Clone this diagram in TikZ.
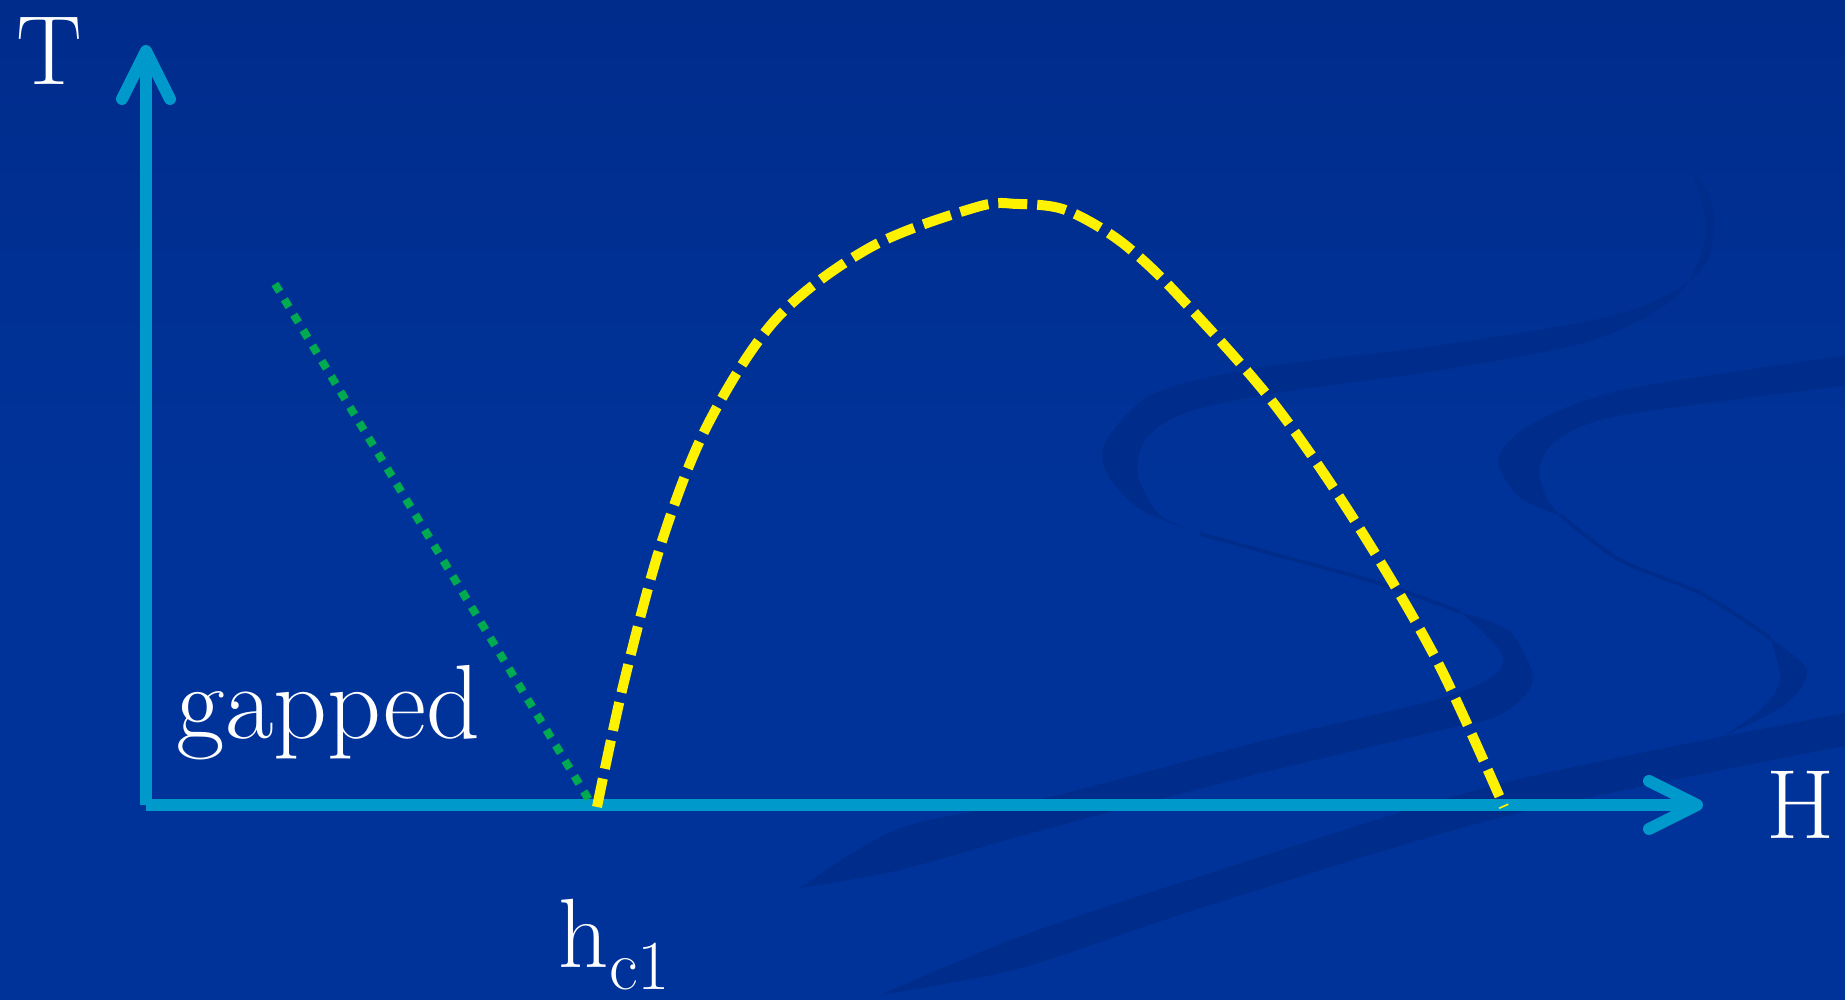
\documentclass[tikz,border=0pt]{standalone}
\usepackage{xcolor}
\usepackage{tikz}
\usetikzlibrary{arrows.meta}
\definecolor{bgblue}{RGB}{0,51,153}
\definecolor{bgtop}{RGB}{0,44,140}
\definecolor{swirl}{RGB}{0,45,140}
\definecolor{axisblue}{RGB}{0,153,204}
\definecolor{gapgreen}{RGB}{0,170,80}

\begin{document}
\begin{tikzpicture}[>={Straight Barb[round,length=4.8mm,width=4.8mm]},
  axis/.style={->, line width=1.2mm, axisblue},
  lbl/.style={text=white, inner sep=0pt, font=\fontsize{28}{34}\selectfont},
  band/.style={fill=swirl},
  thread/.style={swirl, line width=0.4mm},
  gapline/.style={gapgreen, line width=0.8mm, dash pattern=on 0.9mm off 0.9mm},
  crit/.style={yellow, line width=1mm, dash pattern=on 2.9mm off 1mm}]
% background with the faint swirls
\shade[top color=bgtop, bottom color=bgblue, middle color=bgblue] (0,0) rectangle (18.45,10);
\useasboundingbox (0,0) rectangle (18.45,10);
\begin{scope}
\clip (0,0) rectangle (18.45,10);
\fill[band] plot[smooth] coordinates {(16.90,8.34) (17.14,7.90) (17.02,7.31) (16.23,6.87) (14.42,6.55) (12.62,6.33) (11.53,6.06) (11.05,5.57) (11.08,5.25) (11.41,4.90) (12.00,4.66)}
  -- plot[smooth] coordinates {(12.00,4.66) (11.60,4.85) (11.38,5.25) (11.45,5.60) (11.80,5.85) (12.62,6.05) (14.42,6.30) (15.93,6.60) (16.78,7.05) (17.06,7.70) (16.90,8.34)} -- cycle;
\draw[thread] plot[smooth] coordinates {(12.00,4.66) (12.62,4.49) (13.82,4.16) (14.60,3.88)};
\fill[band] plot[smooth] coordinates {(14.60,3.88) (15.10,3.68) (15.33,3.19) (15.00,2.85) (14.42,2.70) (12.62,2.27) (10.50,1.72) (9.00,1.30) (8.00,1.12)}
  -- plot[smooth] coordinates {(8.00,1.12) (9.00,1.72) (10.50,2.03) (12.62,2.59) (14.42,3.02) (14.98,3.28) (14.98,3.52) (14.60,3.88)} -- cycle;
\fill[band] plot[smooth] coordinates {(18.50,6.45) (16.23,6.10) (15.30,5.75) (14.98,5.40) (15.20,5.02) (15.60,4.85)}
  -- plot[smooth] coordinates {(15.60,4.85) (15.45,5.05) (15.40,5.35) (15.60,5.62) (16.23,5.85) (18.50,6.15)} -- cycle;
\draw[thread] plot[smooth] coordinates {(15.60,4.85) (16.20,4.40) (17.02,4.06) (17.70,3.62)};
\fill[band] plot[smooth] coordinates {(17.70,3.62) (18.07,3.30) (17.85,2.95) (17.20,2.62)}
  -- plot[smooth] coordinates {(17.20,2.62) (17.60,2.90) (17.80,3.20) (17.70,3.62)} -- cycle;
\fill[band] plot[smooth] coordinates {(18.50,2.88) (15.03,2.17) (12.01,1.24) (10.21,0.64) (8.80,0.05)}
  -- plot[smooth] coordinates {(8.80,0.05) (10.21,0.32) (12.01,0.92) (15.03,1.83) (18.50,2.55)} -- cycle;
\end{scope}
% axes
\coordinate (O) at (1.46,1.95);
\coordinate (Ttop) at (1.46,9.55);
\coordinate (Hend) at (17.03,1.95);
\draw[axis] (O) -- (Ttop);
\draw[axis] (O) -- (Hend);
\node[lbl, anchor=base] (Tlab) at (0.49,9.15) {T};
\node[lbl, anchor=base] (Hlab) at (18.01,1.61) {H};
% gapped phase boundary
\coordinate (gtop) at (2.75,7.16);
\coordinate (hc1pt) at (5.92,1.95);
\coordinate (hc2pt) at (15.04,1.93);
\draw[gapline] (gtop) -- (hc1pt);
\node[lbl, anchor=base west, font=\fontsize{30}{36}\selectfont] (gap) at (1.76,2.61) {gapped};
% dome between the two critical fields
\draw[crit] plot[smooth, tension=0.55] coordinates {(5.97,1.93) (6.24,3.18) (6.62,4.59) (7.08,5.76) (7.77,6.82) (8.71,7.53) (9.77,7.93) (10.18,7.96) (10.59,7.92) (10.94,7.76) (11.30,7.51) (11.77,7.06) (12.71,6.00) (13.53,4.82) (14.36,3.41) (hc2pt)};
\node[lbl, anchor=base west] (hc) at (5.58,0.32) {h\raisebox{-0.22em}{\fontsize{20}{24}\selectfont c1}};
\end{tikzpicture}
\end{document}
